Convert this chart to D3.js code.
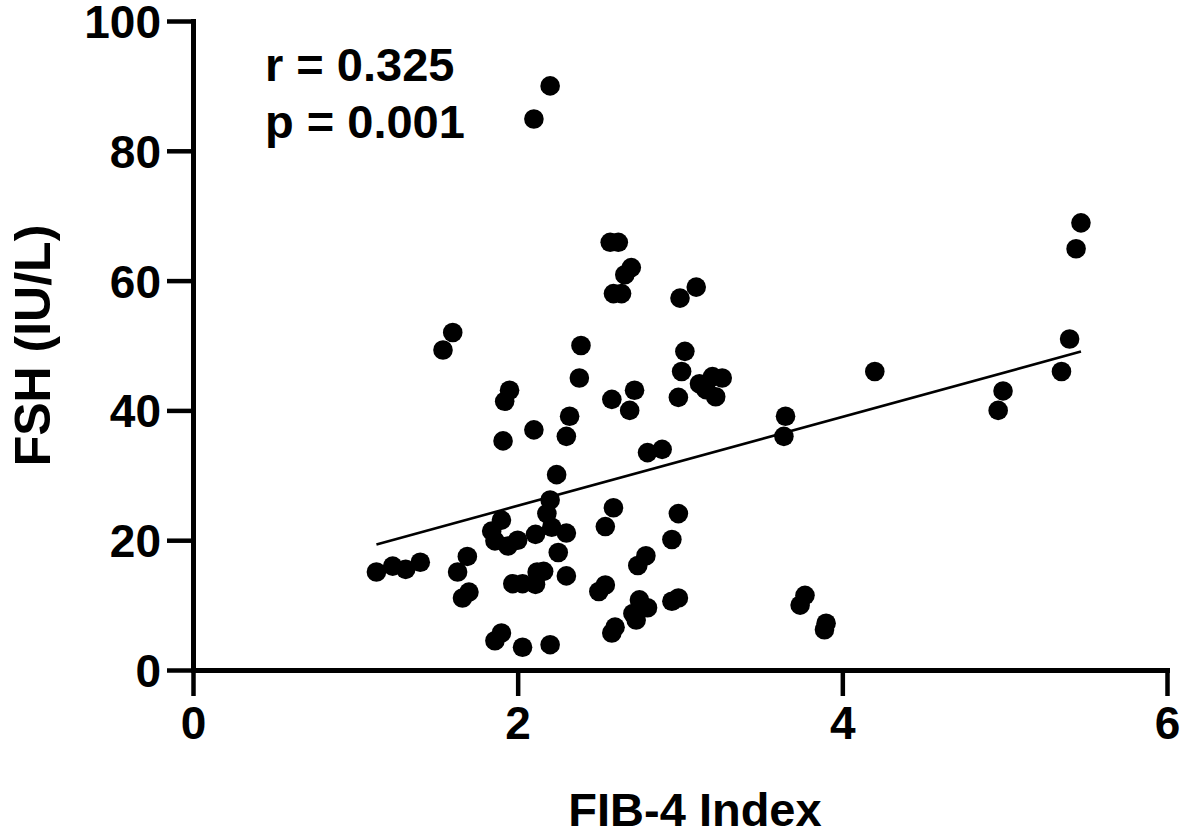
<!DOCTYPE html>
<html><head><meta charset="utf-8">
<script src="https://cdn.jsdelivr.net/npm/d3@7"></script>
<style>
body{margin:0;background:#fff}
svg{display:block}
text{font-family:"Liberation Sans",Arial,Helvetica,sans-serif;font-weight:bold;fill:#000}
</style>
</head><body>
<svg id="chart" width="1181" height="835"></svg>
<script>
// FIB-4 index (x) and FSH in IU/L (y)
const fib4 = [1.13,1.23,1.31,1.40,1.54,1.60,1.69,1.63,1.70,1.66,1.90,1.86,2.03,2.20,1.92,1.95,1.91,2.10,1.90,1.84,1.86,1.94,2.00,2.11,2.21,2.30,2.20,2.18,2.24,2.25,2.30,1.97,2.03,2.11,2.12,2.16,2.10,2.20,2.39,2.38,2.32,2.30,2.58,2.72,2.69,2.80,2.89,2.57,2.62,2.70,2.66,2.59,2.64,3.10,3.00,3.03,3.01,2.99,3.12,3.20,3.26,3.22,3.16,2.59,2.54,2.99,2.95,2.79,2.74,2.54,2.50,2.75,2.80,2.71,2.73,2.99,2.95,2.60,2.58,3.65,3.64,4.20,4.99,4.96,5.40,5.35,5.47,5.44,3.77,3.74,3.90,3.89];
const fsh  = [15.1,16.0,15.5,16.6,49.3,52.0,17.5,15.1,12.0,11.1,5.7,4.5,3.5,3.9,41.4,43.1,35.3,37.0,23.1,21.4,19.9,19.1,20.0,20.9,22.0,21.1,26.2,24.1,30.1,18.1,14.5,13.3,13.3,13.2,15.1,15.2,84.9,90.0,50.0,45.0,39.1,36.0,41.7,43.1,40.0,33.5,34.0,65.9,65.9,62.0,60.9,58.0,58.0,59.0,57.3,49.1,46.0,42.0,44.1,45.2,45.0,42.1,43.2,25.0,22.1,24.1,20.1,17.6,16.1,13.1,12.1,10.8,9.6,8.7,7.7,11.1,10.6,6.6,5.7,39.1,36.0,46.0,43.0,40.0,51.0,46.0,68.9,64.9,11.5,10.0,7.2,6.2];
const xTicks = [0, 2, 4, 6];
const yTicks = [0, 20, 40, 60, 80, 100];
const xTitle = "FIB-4 Index";
const yTitle = "FSH (IU/L)";
const statLines = ["r = 0.325", "p = 0.001"];
const fitSlope = 6.85, fitIntercept = 11.6;

const svg = d3.select("#chart");
const x = d3.scaleLinear().domain([0, 6]).range([193, 1167]);
const y = d3.scaleLinear().domain([0, 100]).range([670, 21]);

// axes
const gx = svg.append("g").attr("transform", `translate(0,${y(0)})`)
  .call(d3.axisBottom(x).tickValues(xTicks).tickFormat(d3.format("d"))
        .tickSize(26).tickSizeOuter(0).tickPadding(8));
const gy = svg.append("g").attr("transform", `translate(${x(0)},0)`)
  .call(d3.axisLeft(y).tickValues(yTicks).tickFormat(d3.format("d"))
        .tickSize(26).tickSizeOuter(0).tickPadding(6));
[gx, gy].forEach(g => {
  g.select(".domain").attr("stroke", "#000").attr("stroke-width", 5).attr("stroke-linecap", "square");
  g.selectAll(".tick line").attr("stroke", "#000").attr("stroke-width", 4.5);
  g.selectAll(".tick text").style("font-size", "46px").attr("fill", "#000");
});
gx.selectAll(".tick text").attr("dy", "0.76em");
gy.selectAll(".tick text").attr("dy", "0.36em");

// regression line across data range
const xr = d3.extent(fib4);
svg.append("line")
  .attr("x1", x(xr[0])).attr("y1", y(fitIntercept + fitSlope * xr[0]))
  .attr("x2", x(xr[1])).attr("y2", y(fitIntercept + fitSlope * xr[1]))
  .attr("stroke", "#000").attr("stroke-width", 2.6);

// points
svg.append("g").selectAll("circle")
  .data(fib4.map((v, i) => [v, fsh[i]]))
  .join("circle")
  .attr("cx", d => x(d[0])).attr("cy", d => y(d[1]))
  .attr("r", 9.8).attr("fill", "#000");

// titles
svg.append("text").attr("x", 695).attr("y", 826)
  .attr("text-anchor", "middle").style("font-size", "47px").text(xTitle);
svg.append("text")
  .attr("transform", `translate(50,${(y(0) + y(100)) / 2}) rotate(-90)`)
  .attr("text-anchor", "middle").style("font-size", "50px").text(yTitle);

// stats annotation
svg.append("g").selectAll("text").data(statLines).join("text")
  .attr("x", 265).attr("y", (d, i) => 81 + i * 57)
  .style("font-size", "47px").text(d => d);
</script>
</body></html>
